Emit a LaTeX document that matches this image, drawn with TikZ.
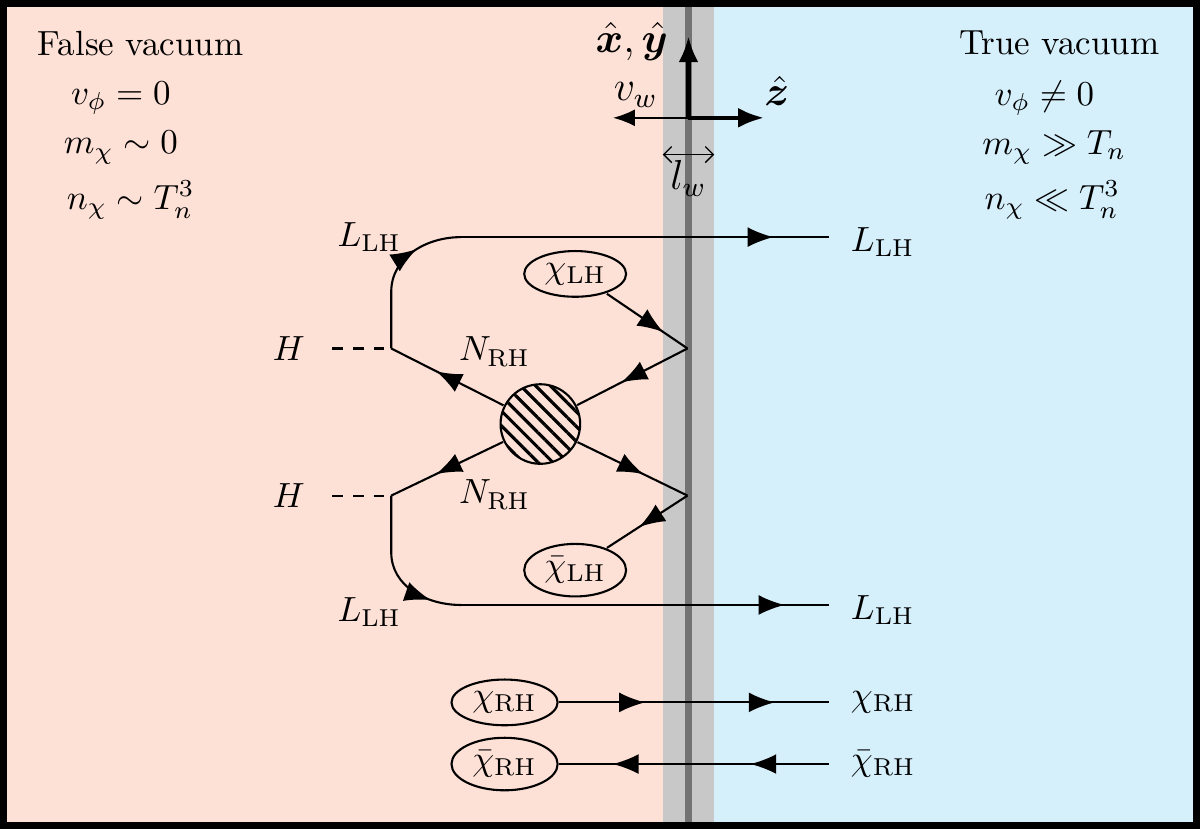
\documentclass[tikz,border=0pt]{standalone}
\usepackage{amsmath,bm}
\usetikzlibrary{arrows.meta,decorations.markings,patterns.meta,shapes.geometric}

\definecolor{falsebg}{RGB}{253,224,214}
\definecolor{truebg}{RGB}{213,239,251}
\definecolor{wallbg}{RGB}{200,200,200}

\begin{document}
\begin{tikzpicture}[x=0.01cm,y=-0.01cm]
\tikzset{
  ftip/.tip={Latex[length=2.6mm,width=2mm]},
  fermion/.style={semithick,decoration={markings,mark=at position #1 with {\arrow{ftip}}},postaction={decorate}},
  fermion/.default=0.6,
  scalar/.style={semithick,dashed},
  blob/.style={circle,draw,semithick,minimum size=0.8cm,pattern={Lines[angle=-45,distance=3pt,line width=0.9pt]}},
  ext/.style={ellipse,draw,semithick,inner sep=1.5pt},
}
% background regions
\fill[falsebg] (0,0) rectangle (663,827);
\fill[wallbg] (663,0) rectangle (715,827);
\fill[truebg] (715,0) rectangle (1200,827);
\draw[line width=2pt,gray!90!black] (689,0) -- (689,827);
\draw[line width=2pt] (0,0) rectangle (1200,827);

% axes
\coordinate (o) at (689,115);
\coordinate (xy) at (689,33);
\coordinate (z) at (765,115);
\coordinate (vw) at (613,115);
\draw[-{Latex[length=2.6mm,width=2mm]},line width=1.2pt] (o) -- (xy);
\draw[-{Latex[length=2.6mm,width=2mm]},line width=1.2pt] (o) -- (z);
\draw[-{Latex[length=2.2mm,width=1.7mm]},semithick] (o) -- (vw);
\node (xylab) at (632,38) {\large $\hat{\bm x},\hat{\bm y}$};
\node (zlab) at (778,88) {\large $\hat{\bm z}$};
\node (vwlab) at (636,92) {\large $v_w$};
\coordinate (lwl) at (663,152);
\coordinate (lwr) at (715,152);
\draw[{Straight Barb}-{Straight Barb}] (lwl) -- (lwr);
\node (lwlab) at (689,176) {\large $l_w$};

% vacuum properties
\node (false) at (138,40) {False vacuum};
\node (vfalse) at (118,95) {$v_\phi=0$};
\node (mfalse) at (118,145) {$m_\chi\sim0$};
\node (nfalse) at (128,198) {$n_\chi\sim T_n^3$};
\node (true) at (1062,40) {True vacuum};
\node (vtrue) at (1047,95) {$v_\phi\neq0$};
\node (mtrue) at (1057,145) {$m_\chi\gg T_n$};
\node (ntrue) at (1055,198) {$n_\chi\ll T_n^3$};

% scattering diagram
\node[blob] (bl) at (540,423) {};
\coordinate (vup) at (390,347);
\coordinate (vdn) at (390,495);
\coordinate (wup) at (688,347);
\coordinate (wdn) at (688,495);
\coordinate (lup) at (460,235);
\coordinate (ldn) at (460,605);
\coordinate (lupr) at (830,235);
\coordinate (ldnr) at (830,605);
\node (hup) at (287,347) {$H$};
\node (hdn) at (287,495) {$H$};
\draw[scalar] (hup.east) ++(15,0) -- (vup);
\draw[scalar] (hdn.east) ++(15,0) -- (vdn);
\draw[fermion=0.6] (bl) -- (vup);
\draw[fermion=0.6] (bl) -- (vdn);
\draw[fermion=0.6] (wup) -- (bl);
\draw[fermion=0.6] (bl) -- (wdn);
\draw[fermion=0.7] (vup) -- ++(0,-57) to[out=90,in=180] (lup);
\draw[fermion=0.85] (lup) -- (lupr);
\draw[fermion=0.8] (vdn) -- ++(0,57) to[out=-90,in=180] (ldn);
\draw[fermion=0.88] (ldn) -- (ldnr);
\node[ext] (chil) at (575,272) {$\chi_{\rm LH}$};
\node[ext] (chibl) at (575,570) {$\bar\chi_{\rm LH}$};
\draw[fermion=0.7] (chil.south east) ++(-5,3) -- (wup);
\draw[fermion=0.6] (wdn) -- ([shift={(-5,-3)}]chibl.north east);
\node (nup) at (494,350) {$N_{\rm RH}$};
\node (ndn) at (494,494) {$N_{\rm RH}$};
\node (lulab) at (368,235) {$L_{\rm LH}$};
\node (ldlab) at (368,612) {$L_{\rm LH}$};
\node[anchor=west] (lurlab) at (840,240) {$L_{\rm LH}$};
\node[anchor=west] (ldrlab) at (840,610) {$L_{\rm LH}$};

% right-handed states
\node[ext] (chir) at (504,703) {$\chi_{\rm RH}$};
\node[ext] (chibr) at (504,765) {$\bar\chi_{\rm RH}$};
\coordinate (chirr) at (830,703);
\coordinate (chibrr) at (830,765);
\draw[semithick,decoration={markings,mark=at position 0.32 with {\arrow{ftip}},mark=at position 0.8 with {\arrow{ftip}}},postaction={decorate}] (chir) -- (chirr);
\draw[semithick,decoration={markings,mark=at position 0.29 with {\arrow{ftip}},mark=at position 0.8 with {\arrow{ftip}}},postaction={decorate}] (chibrr) -- (chibr);
\node[anchor=west] (chirlab) at (840,703) {$\chi_{\rm RH}$};
\node[anchor=west] (chibrlab) at (840,765) {$\bar\chi_{\rm RH}$};
\end{tikzpicture}
\end{document}
